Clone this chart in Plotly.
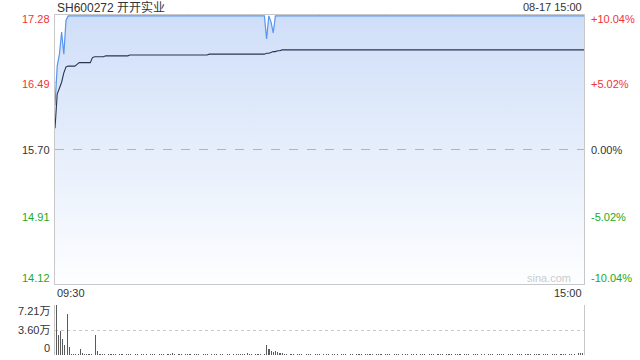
import plotly.graph_objects as go

# ---- data ----
title_text = "SH600272 开开实业"
date_text = "08-17 15:00"
prev_close = 15.70
price_ticks = [17.28, 16.49, 15.70, 14.91, 14.12]
pct_ticks = ["+10.04%", "+5.02%", "0.00%", "-5.02%", "-10.04%"]
vol_ticks = [7.21, 3.60, 0]
vol_tick_labels = ["7.21万", "3.60万", "0"]
time_labels = ["09:30", "15:00"]

minutes = list(range(241))

price = ([16.22, 16.68, 16.82, 17.08, 16.82, 17.22]
         + [17.27] * 90
         + [17.00, 17.27, 17.20, 17.07]
         + [17.27] * 141)

avg_price = ([15.95, 16.35, 16.42, 16.49, 16.60, 16.67, 16.68, 16.68, 16.68, 16.68,
              16.70, 16.72, 16.72, 16.72, 16.72, 16.72, 16.72, 16.78, 16.79, 16.79]
             + [16.79, 16.79, 16.79, 16.80, 16.80, 16.80, 16.80, 16.80, 16.80, 16.80,
                16.80, 16.80, 16.80, 16.80, 16.81, 16.81, 16.81, 16.81, 16.81, 16.81]
             + [16.81] * 30
             + [16.82] * 25
             + [16.82, 16.83, 16.83, 16.84, 16.85, 16.85, 16.86, 16.86, 16.87, 16.87]
             + [16.87] * 136)

volume = [
    7.21, 2.88, 3.46, 2.31, 1.44, 5.91, 1.10, 0.10, 0.08, 0.10,
    0.12, 0.82, 0.34, 0.15, 0.15, 0.08, 0.10, 0.06, 2.88, 0.58,
    0.10, 0.08, 0.10, 0.06, 0.08, 0.10, 0.12, 0.08, 0.06, 0.10,
    0.08, 0.06, 0.10, 0.08, 0.12, 0.06, 0.08, 0.10, 0.06, 0.08,
    0.10, 0.08, 0.06, 0.10, 0.08, 0.12, 0.06, 0.08, 0.10, 0.08,
    0.06, 0.10, 0.12, 0.22, 0.08, 0.06, 0.10, 0.08, 0.06, 0.10,
    0.08, 0.12, 0.06, 0.08, 0.10, 0.08, 0.06, 0.10, 0.08, 0.12,
    0.06, 0.08, 0.10, 0.08, 0.06, 0.10, 0.08, 0.06, 0.12, 0.08,
    0.06, 0.10, 0.08, 0.12, 0.10, 0.20, 0.08, 0.34, 0.10, 0.08,
    0.06, 0.15, 0.08, 0.10, 0.06, 0.08, 1.44, 0.87, 0.58, 0.48,
    0.62, 0.43, 0.29, 0.34, 0.10, 0.08, 0.06, 0.10, 0.08, 0.06,
    0.10, 0.08, 0.12, 0.06, 0.08, 0.10, 0.08, 0.06, 0.10, 0.08,
    0.12, 0.06, 0.08, 0.10, 0.08, 0.06, 0.10, 0.08, 0.12, 0.06,
    0.08, 0.10, 0.08, 0.06, 0.10, 0.08, 0.06, 0.12, 0.08, 0.10,
    0.06, 0.08, 0.10, 0.08, 0.12, 0.06, 0.08, 0.10, 0.08, 0.06,
    0.10, 0.08, 0.12, 0.06, 0.08, 0.10, 0.08, 0.06, 0.10, 0.08,
    0.12, 0.06, 0.08, 0.10, 0.08, 0.06, 0.10, 0.20, 0.08, 0.06,
    0.10, 0.08, 0.12, 0.06, 0.08, 0.10, 0.08, 0.06, 0.10, 0.08,
    0.12, 0.06, 0.08, 0.10, 0.08, 0.06, 0.10, 0.08, 0.12, 0.06,
    0.08, 0.10, 0.08, 0.06, 0.10, 0.08, 0.06, 0.12, 0.08, 0.10,
    0.06, 0.08, 0.10, 0.08, 0.12, 0.06, 0.08, 0.10, 0.08, 0.06,
    0.10, 0.08, 0.12, 0.06, 0.08, 0.10, 0.08, 0.06, 0.10, 0.20,
    0.08, 0.06, 0.10, 0.08, 0.12, 0.06, 0.08, 0.10, 0.08, 0.06,
    0.10, 0.08, 0.12, 0.06, 0.08, 0.10, 0.08, 0.06, 0.25, 0.22,
    0.25,
]

# ---- styling ----
FONT = "Liberation Sans, Arial, Noto Sans CJK SC, sans-serif"
RED = "#f23333"
GREEN = "#22aa22"
DARK = "#333333"
GRID = "#c8c8c8"
W, H = 640, 360
XL, XR = 55, 584             # plot edges in window pixels
MAIN_TOP, MAIN_BOT = 15, 284
VOL_TOP, VOL_BOT = 305, 355


def px(p):
    return p / W


def py(p):
    return 1 - p / H


fig = go.Figure()

fig.add_trace(go.Scatter(
    x=minutes, y=price, mode="lines",
    line=dict(color="#5a95f0", width=1.2),
    fill="tozeroy",
    fillgradient=dict(type="vertical", start=price_ticks[-1], stop=price_ticks[0],
                      colorscale=[[0, "#fdfeff"], [1, "#cfdef8"]]),
    xaxis="x", yaxis="y", hoverinfo="skip", showlegend=False))

fig.add_trace(go.Scatter(
    x=minutes, y=avg_price, mode="lines",
    line=dict(color="#2a3550", width=1.1),
    xaxis="x", yaxis="y", hoverinfo="skip", showlegend=False))

fig.add_trace(go.Bar(
    x=minutes, y=volume, marker=dict(color="#5a5a5a", line=dict(width=0)),
    width=0.5, xaxis="x2", yaxis="y2", hoverinfo="skip", showlegend=False))

fig.update_layout(
    width=W, height=H,
    margin=dict(l=0, r=0, t=0, b=0),
    paper_bgcolor="white", plot_bgcolor="rgba(0,0,0,0)",
    font=dict(family=FONT, size=11, color=DARK),
    bargap=0,
    xaxis=dict(domain=[px(XL), px(XR)], range=[0, 240],
               tickvals=[30, 60, 90, 120, 150, 180, 210],
               showticklabels=False, ticks="",
               showgrid=True, gridcolor=GRID, griddash="dot", gridwidth=1,
               zeroline=False, showline=True, mirror=True, linecolor=GRID, linewidth=1),
    yaxis=dict(domain=[py(MAIN_BOT), py(MAIN_TOP)],
               range=[price_ticks[-1], price_ticks[0]],
               tickvals=[price_ticks[1], price_ticks[3]],
               showticklabels=False, ticks="",
               showgrid=True, gridcolor=GRID, griddash="dot", gridwidth=1,
               zeroline=False, showline=True, mirror=True, linecolor=GRID, linewidth=1),
    xaxis2=dict(domain=[px(XL), px(XR)], range=[-0.5, 240.5], anchor="y2",
                showticklabels=False, ticks="", showgrid=False, zeroline=False,
                showline=False),
    yaxis2=dict(domain=[py(VOL_BOT), py(VOL_TOP)], range=[0, vol_ticks[0]], anchor="x2",
                tickvals=vol_ticks, showticklabels=False, ticks="",
                showgrid=True, gridcolor=GRID, griddash="dot", gridwidth=1,
                zeroline=False, showline=True, mirror=True, linecolor=GRID, linewidth=1),
)

# previous close dashed line
fig.add_shape(type="line", xref="x domain", yref="y", x0=0, x1=1,
              y0=prev_close, y1=prev_close,
              line=dict(color="#eba08c", width=1, dash="dash"), layer="above")

ann = []
left_colors = [RED, RED, DARK, GREEN, GREEN]
shifts = [-4, -2, 0, 0, 6]
for v, pct, c, s in zip(price_ticks, pct_ticks, left_colors, shifts):
    ann.append(dict(x=px(52), xref="paper", y=v, yref="y", text=f"{v:.2f}",
                    xanchor="right", yanchor="middle", yshift=s, showarrow=False,
                    font=dict(color=c, size=11)))
    ann.append(dict(x=px(589), xref="paper", y=v, yref="y", text=pct,
                    xanchor="left", yanchor="middle", yshift=s, showarrow=False,
                    font=dict(color=c, size=11)))

vshifts = [-6, 0, 7]
for v, t, s in zip(vol_ticks, vol_tick_labels, vshifts):
    ann.append(dict(x=px(52), xref="paper", y=v, yref="y2", text=t,
                    xanchor="right", yanchor="middle", yshift=s, showarrow=False,
                    font=dict(color=DARK, size=11)))

ann.append(dict(x=px(XL), xref="paper", y=py(293), yref="paper", text=time_labels[0],
                xanchor="left", yanchor="middle", showarrow=False, font=dict(size=11)))
ann.append(dict(x=px(XR), xref="paper", y=py(293), yref="paper", text=time_labels[1],
                xanchor="right", yanchor="middle", showarrow=False, font=dict(size=11)))
ann.append(dict(x=px(XL), xref="paper", y=py(7), yref="paper", text=title_text,
                xanchor="left", yanchor="middle", showarrow=False,
                font=dict(size=12, color=DARK)))
ann.append(dict(x=px(XR), xref="paper", y=py(7), yref="paper", text=date_text,
                xanchor="right", yanchor="middle", showarrow=False,
                font=dict(size=11, color=DARK)))
ann.append(dict(x=px(573), xref="paper", y=py(278), yref="paper", text="sina.com",
                xanchor="right", yanchor="middle", showarrow=False,
                font=dict(size=11, color="#cccccc")))

fig.update_layout(annotations=ann)

# remove the browser's default page margin so the figure fills the window exactly
fig.write_html("out.html",
               config={"displayModeBar": False, "staticPlot": True},
               post_script="document.body.style.margin='0';document.body.style.overflow='hidden';")
